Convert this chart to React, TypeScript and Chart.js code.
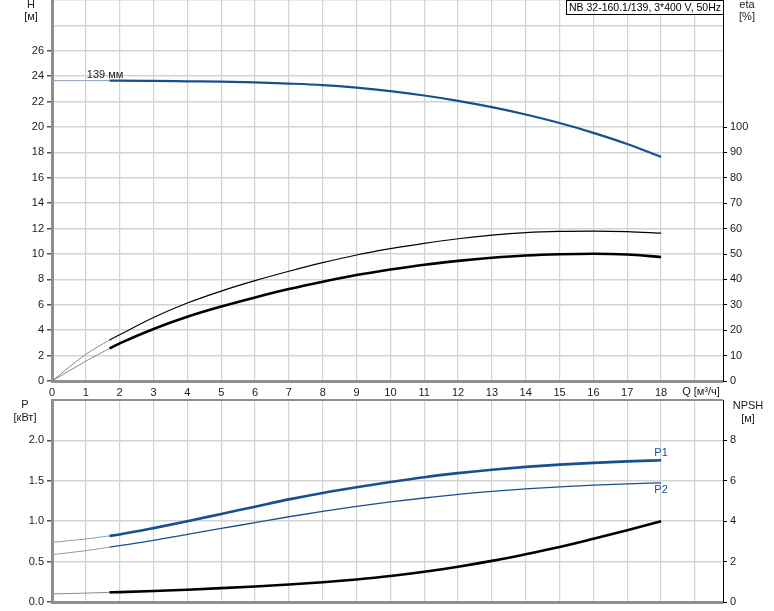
import React, { useEffect, useRef } from "react";
import { Chart, registerables } from "chart.js";

Chart.register(...registerables);

// ---------- data ----------
const Q = [0, 1, 1.7, 2, 3, 4, 5, 6, 7, 8, 9, 10, 11, 12, 13, 14, 15, 16, 17, 18];
const H = [23.65, 23.65, 23.65, 23.65, 23.63, 23.6, 23.57, 23.51, 23.42, 23.3, 23.1, 22.83, 22.48, 22.06, 21.56, 20.98, 20.31, 19.54, 18.66, 17.64];
const ETA_TOTAL = [0, 10.5, 16.1, 18.2, 25.0, 30.7, 35.4, 39.5, 43.2, 46.6, 49.6, 52.1, 54.2, 56.0, 57.4, 58.4, 58.9, 59.0, 58.8, 58.2];
const ETA_PUMP = [0, 7.8, 12.8, 14.8, 20.5, 25.3, 29.3, 32.9, 36.2, 39.1, 41.7, 43.9, 45.8, 47.3, 48.5, 49.4, 49.9, 50.1, 49.8, 48.8];
const P1 = [0.738, 0.78, 0.818, 0.836, 0.914, 1.0, 1.09, 1.18, 1.27, 1.35, 1.42, 1.485, 1.545, 1.595, 1.637, 1.672, 1.7, 1.722, 1.74, 1.754];
const P2 = [0.586, 0.635, 0.678, 0.697, 0.762, 0.836, 0.91, 0.982, 1.055, 1.122, 1.184, 1.238, 1.287, 1.332, 1.369, 1.4, 1.426, 1.447, 1.463, 1.475];
const NPSH = [0.4, 0.44, 0.475, 0.49, 0.545, 0.61, 0.685, 0.77, 0.865, 0.975, 1.115, 1.285, 1.495, 1.745, 2.035, 2.365, 2.725, 3.13, 3.55, 4.0];
const THICK_FROM_Q = 1.7;

const Q_MIN = 0, Q_MAX = 19.83, Q_STEP = 1, Q_LABEL_MAX = 18;
const H_MAX = 30, H_STEP = 2, H_LABEL_MAX = 26;
const ETA_MAX = 150, ETA_STEP = 10, ETA_LABEL_MAX = 100;
const P_MAX = 2.5, P_STEP = 0.5, P_LABEL_MAX = 2.0;
const NPSH_MAX = 10, NPSH_STEP = 2, NPSH_LABEL_MAX = 8;

const TITLE = "NB 32-160.1/139, 3*400 V, 50Hz";
const IMPELLER = "139 мм";
const H_TITLE = ["H", "[м]"];
const ETA_TITLE = ["eta", "[%]"];
const P_TITLE = ["P", "[кВт]"];
const NPSH_TITLE = ["NPSH", "[м]"];
const Q_TITLE = "Q [м³/ч]";
const P1_LABEL = "P1";
const P2_LABEL = "P2";

// ---------- styles ----------
const FONT = '"Liberation Sans", Arial, Helvetica, sans-serif';
const BLUE = "#17508f";
const BLUE_THIN = "#8b9cb5";
const BLACK = "#000000";
const BLACK_THIN = "#8a8a8a";
const GRID = "#d3d3d3";
const AXIS_GRAY = "#8f8f8f";
const TEXT = "#1a1a1a";
const W = 774;
const TOP_H = 398;
const BOT_H = 213;
const LEFT_W = 52;
const RIGHT_W = 51;

const pts = (ys: number[]) => Q.map((q, i) => ({ x: q, y: ys[i] }));

function lineDs(label: string, ys: number[], axis: string, color: string, thin: string, width: number) {
  return {
    label,
    data: pts(ys),
    yAxisID: axis,
    borderColor: color,
    borderWidth: width,
    pointRadius: 0,
    fill: false,
    cubicInterpolationMode: "monotone" as const,
    segment: {
      borderColor: (c: any) => (c.p0.parsed.x < THICK_FROM_Q ? thin : undefined),
      borderWidth: (c: any) => (c.p0.parsed.x < THICK_FROM_Q ? 1 : undefined),
    },
  };
}

const zeroPad = (s: any) => {
  s.paddingTop = 0;
  s.paddingBottom = 0;
  s.paddingLeft = 0;
  s.paddingRight = 0;
};

function xScale(showLabels: boolean, height: number) {
  return {
    type: "linear" as const,
    min: Q_MIN,
    max: Q_MAX,
    afterFit: (s: any) => {
      s.height = height;
      zeroPad(s);
    },
    border: { display: true, color: AXIS_GRAY, width: 3 },
    grid: { color: GRID, lineWidth: 1.2, drawTicks: false },
    ticks: {
      display: showLabels,
      stepSize: Q_STEP,
      includeBounds: false,
      padding: 5,
      color: TEXT,
      font: { family: FONT, size: 11 },
      maxRotation: 0,
      autoSkip: false,
      callback: (v: any) => (v <= Q_LABEL_MAX ? String(v) : ""),
    },
  };
}

function leftScale(max: number, step: number, labelMax: number, fmt: (v: number) => string) {
  return {
    type: "linear" as const,
    position: "left" as const,
    min: 0,
    max,
    afterFit: (s: any) => {
      s.width = LEFT_W;
      zeroPad(s);
    },
    border: { display: true, color: AXIS_GRAY, width: 3 },
    grid: {
      color: GRID,
      lineWidth: 1.5,
      drawTicks: true,
      tickLength: 5,
      tickColor: (c: any) => (c.tick && c.tick.value <= labelMax + 1e-9 ? "#555" : "rgba(0,0,0,0)"),
    },
    ticks: {
      stepSize: step,
      padding: 3,
      color: TEXT,
      font: { family: FONT, size: 11 },
      autoSkip: false,
      callback: (v: any) => (v <= labelMax + 1e-9 ? fmt(v) : ""),
    },
  };
}

function rightScale(max: number, step: number, labelMax: number) {
  return {
    type: "linear" as const,
    position: "right" as const,
    min: 0,
    max,
    afterFit: (s: any) => {
      s.width = RIGHT_W;
      zeroPad(s);
    },
    border: { display: true, color: BLACK, width: 1 },
    grid: {
      drawOnChartArea: false,
      drawTicks: true,
      tickLength: 4,
      tickColor: (c: any) => (c.tick && c.tick.value <= labelMax + 1e-9 ? "#000" : "rgba(0,0,0,0)"),
    },
    ticks: {
      stepSize: step,
      padding: 3,
      color: TEXT,
      font: { family: FONT, size: 11 },
      autoSkip: false,
      callback: (v: any) => (v <= labelMax + 1e-9 ? String(v) : ""),
    },
  };
}

const topPlugin = {
  id: "topTexts",
  afterDraw(chart: any) {
    const { ctx, chartArea, scales } = chart;
    ctx.save();
    ctx.font = `11px ${FONT}`;
    ctx.fillStyle = TEXT;
    ctx.textAlign = "center";
    ctx.textBaseline = "middle";
    ctx.fillText(H_TITLE[0], 31, 5);
    ctx.fillText(H_TITLE[1], 31, 17);
    ctx.fillText(ETA_TITLE[0], 747, 5);
    ctx.fillText(ETA_TITLE[1], 747, 17);
    ctx.fillText(Q_TITLE, 701, chartArea.bottom + 11);
    // impeller label
    const x = scales.x.getPixelForValue(1);
    const y = scales.y.getPixelForValue(H[1]);
    ctx.textAlign = "left";
    ctx.fillText(IMPELLER, x + 1, y - 6);
    // title box
    ctx.font = `10.5px ${FONT}`;
    const tw = ctx.measureText(TITLE).width;
    const bx = Math.round(chartArea.right - tw - 5) + 0.5;
    ctx.fillStyle = "#fff";
    ctx.fillRect(bx, 0.5, tw + 5, 14);
    ctx.strokeStyle = "#000";
    ctx.lineWidth = 1;
    ctx.strokeRect(bx, 0.5, tw + 5, 14);
    ctx.fillStyle = "#000";
    ctx.fillText(TITLE, bx + 2.5, 8);
    ctx.restore();
  },
};

const botPlugin = {
  id: "botTexts",
  afterDraw(chart: any) {
    const { ctx, chartArea, scales } = chart;
    ctx.save();
    ctx.strokeStyle = AXIS_GRAY;
    ctx.lineWidth = 2;
    ctx.beginPath();
    ctx.moveTo(chartArea.left - 1, chartArea.top);
    ctx.lineTo(chartArea.right, chartArea.top);
    ctx.stroke();
    ctx.font = `11px ${FONT}`;
    ctx.fillStyle = TEXT;
    ctx.textAlign = "center";
    ctx.textBaseline = "middle";
    ctx.fillText(P_TITLE[0], 25, chartArea.top + 5);
    ctx.fillText(P_TITLE[1], 25, chartArea.top + 18);
    ctx.fillText(NPSH_TITLE[0], 748, chartArea.top + 6);
    ctx.fillText(NPSH_TITLE[1], 748, chartArea.top + 19);
    const last = Q.length - 1;
    const x = scales.x.getPixelForValue(Q[last]);
    ctx.fillStyle = BLUE;
    ctx.fillText(P1_LABEL, x, scales.y.getPixelForValue(P1[last]) - 7);
    ctx.fillText(P2_LABEL, x, scales.y.getPixelForValue(P2[last]) + 7);
    ctx.restore();
  },
};

export default function App() {
  const topRef = useRef<HTMLCanvasElement>(null);
  const botRef = useRef<HTMLCanvasElement>(null);

  useEffect(() => {
    const top = new Chart(topRef.current!, {
      type: "line",
      data: {
        datasets: [
          lineDs("H", H, "y", BLUE, BLUE_THIN, 2.2),
          lineDs("eta", ETA_TOTAL, "y2", BLACK, BLACK_THIN, 1.2),
          lineDs("eta pump", ETA_PUMP, "y2", BLACK, BLACK_THIN, 2.6),
        ] as any,
      },
      options: {
        responsive: false,
        animation: false,
        devicePixelRatio: 1,
        layout: { padding: 0 },
        plugins: { legend: { display: false }, tooltip: { enabled: false }, title: { display: false } },
        scales: {
          x: xScale(true, TOP_H - 381),
          y: leftScale(H_MAX, H_STEP, H_LABEL_MAX, (v) => String(v)),
          y2: rightScale(ETA_MAX, ETA_STEP, ETA_LABEL_MAX),
        } as any,
      },
      plugins: [topPlugin],
    });
    const bot = new Chart(botRef.current!, {
      type: "line",
      data: {
        datasets: [
          lineDs("P1", P1, "y", BLUE, BLUE_THIN, 2.6),
          lineDs("P2", P2, "y", BLUE, BLUE_THIN, 1.3),
          lineDs("NPSH", NPSH, "y2", BLACK, BLACK_THIN, 2.6),
        ] as any,
      },
      options: {
        responsive: false,
        animation: false,
        devicePixelRatio: 1,
        layout: { padding: { top: 2 } },
        plugins: { legend: { display: false }, tooltip: { enabled: false }, title: { display: false } },
        scales: {
          x: xScale(false, 9),
          y: leftScale(P_MAX, P_STEP, P_LABEL_MAX, (v) => v.toFixed(1)),
          y2: rightScale(NPSH_MAX, NPSH_STEP, NPSH_LABEL_MAX),
        } as any,
      },
      plugins: [botPlugin],
    });
    return () => {
      top.destroy();
      bot.destroy();
    };
  }, []);

  return (
    <div style={{ position: "absolute", left: 0, top: 0, width: W, background: "#fff" }}>
      <canvas ref={topRef} width={W} height={TOP_H} style={{ display: "block" }} />
      <canvas ref={botRef} width={W} height={BOT_H} style={{ display: "block" }} />
    </div>
  );
}
